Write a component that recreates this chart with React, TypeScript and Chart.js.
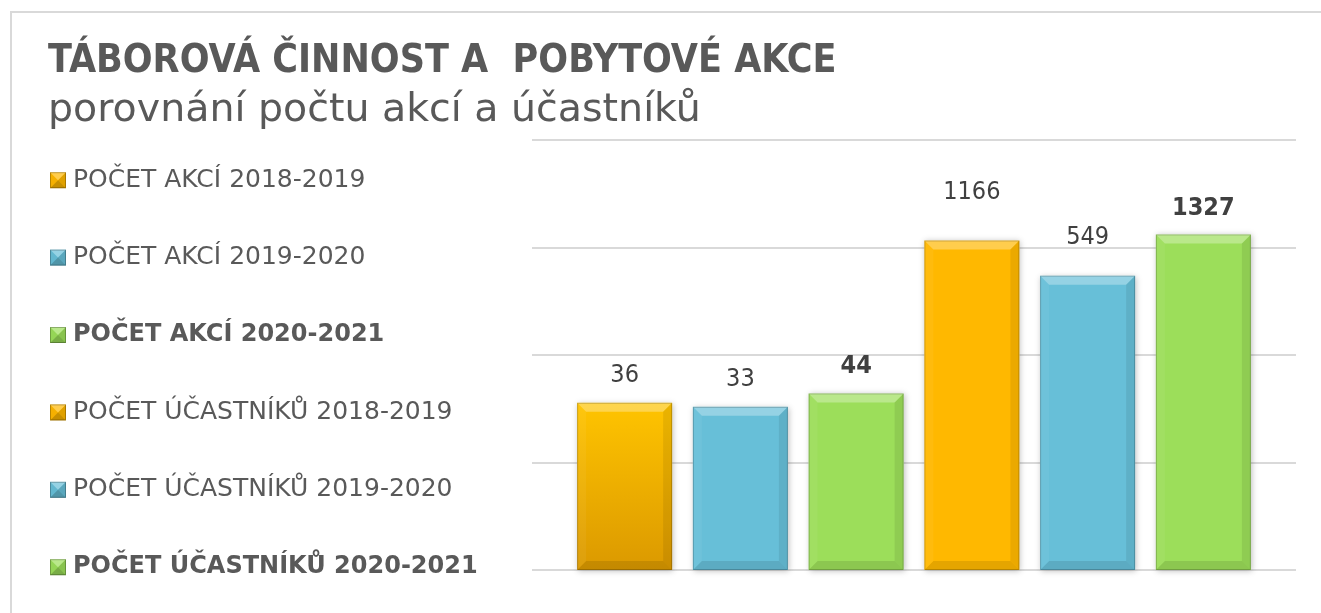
import React, { useEffect, useRef } from 'react';
import { Chart, registerables } from 'chart.js';

Chart.register(...registerables);

// ---- data ----
const categories = [''];
const seriesLabels = [
  'POČET AKCÍ 2018-2019',
  'POČET AKCÍ 2019-2020',
  'POČET AKCÍ 2020-2021',
  'POČET ÚČASTNÍKŮ 2018-2019',
  'POČET ÚČASTNÍKŮ 2019-2020',
  'POČET ÚČASTNÍKŮ 2020-2021',
];
const seriesValues = [36, 33, 44, 1166, 549, 1327];
const gridValues = [1, 10, 100, 1000, 10000];
const titleText = 'TÁBOROVÁ ČINNOST A  POBYTOVÉ AKCE';
const subtitleText = 'porovnání počtu akcí a účastníků';

// ---- styles ----
const FONT_C = '"DejaVu Sans Condensed", "DejaVu Sans", sans-serif';
const FONT = '"DejaVu Sans", sans-serif';
const seriesColors = ['#FFB800', '#67BFD8', '#9CDE5A', '#FFB800', '#67BFD8', '#9CDE5A'];
const boldSeries = [false, false, true, false, false, true];
const labelLift = [27, 27, 27, 48, 38, 26];
const TEXT = '#595959';
const LABEL = '#404040';

function bevelRect(ctx: CanvasRenderingContext2D, l: number, t: number, r: number, b: number, s: number) {
  const poly = (pts: number[][], fill: string) => {
    ctx.beginPath();
    ctx.moveTo(pts[0][0], pts[0][1]);
    for (let i = 1; i < pts.length; i++) ctx.lineTo(pts[i][0], pts[i][1]);
    ctx.closePath();
    ctx.fillStyle = fill;
    ctx.fill();
  };
  poly([[l, t], [r, t], [r - s, t + s], [l + s, t + s]], 'rgba(255,255,255,0.3)');
  poly([[l, b], [r, b], [r - s, b - s], [l + s, b - s]], 'rgba(0,0,0,0.1)');
  poly([[r, t], [r, b], [r - s, b - s], [r - s, t + s]], 'rgba(0,0,0,0.08)');
  poly([[l, t], [l, b], [l + s, b - s], [l + s, t + s]], 'rgba(255,255,255,0.05)');
}

const shadowPlugin = {
  id: 'barShadow',
  beforeDatasetsDraw(chart: any) {
    const ctx = chart.ctx as CanvasRenderingContext2D;
    chart.data.datasets.forEach((_d: any, i: number) => {
      const meta = chart.getDatasetMeta(i);
      meta.data.forEach((bar: any) => {
        const { x, y, base, width } = bar.getProps(['x', 'y', 'base', 'width'], true);
        ctx.save();
        ctx.shadowColor = 'rgba(0,0,0,0.25)';
        ctx.shadowBlur = 6;
        ctx.shadowOffsetX = 1;
        ctx.shadowOffsetY = 1;
        ctx.fillStyle = '#ffffff';
        ctx.fillRect(x - width / 2, y, width, base - y);
        ctx.restore();
      });
    });
  },
};

const bevelPlugin = {
  id: 'barBevel',
  afterDatasetsDraw(chart: any) {
    const ctx = chart.ctx as CanvasRenderingContext2D;
    chart.data.datasets.forEach((_d: any, i: number) => {
      const meta = chart.getDatasetMeta(i);
      meta.data.forEach((bar: any) => {
        const { x, y, base, width } = bar.getProps(['x', 'y', 'base', 'width'], true);
        const l = x - width / 2;
        const r = x + width / 2;
        ctx.save();
        bevelRect(ctx, l, y, r, base, 9);
        ctx.strokeStyle = 'rgba(0,0,0,0.2)';
        ctx.lineWidth = 1;
        ctx.strokeRect(l + 0.5, y + 0.5, width - 1, base - y - 1);
        ctx.restore();
        // value label
        ctx.save();
        ctx.font = `${boldSeries[i] ? 'bold ' : ''}25px ${FONT_C}`;
        ctx.fillStyle = LABEL;
        ctx.textAlign = 'center';
        ctx.textBaseline = 'middle';
        ctx.fillText(String(chart.data.datasets[i].data[0]), x, y - labelLift[i]);
        ctx.restore();
      });
    });
  },
};

const legendPlugin = {
  id: 'sideLegend',
  afterDraw(chart: any) {
    const ctx = chart.ctx as CanvasRenderingContext2D;
    const area = chart.chartArea;
    chart.data.datasets.forEach((ds: any, i: number) => {
      const cy = area.top + 40 + i * 77.4;
      const bx = 50;
      const s = 16;
      const by = cy - s / 2;
      const c = seriesColors[i];
      ctx.save();
      ctx.fillStyle = c;
      ctx.fillRect(bx, by, s, s);
      const tri = (pts: number[][], fill: string) => {
        ctx.beginPath();
        ctx.moveTo(pts[0][0], pts[0][1]);
        pts.slice(1).forEach((p) => ctx.lineTo(p[0], p[1]));
        ctx.closePath();
        ctx.fillStyle = fill;
        ctx.fill();
      };
      const mx = bx + s / 2;
      const my = by + s / 2;
      tri([[bx, by], [bx + s, by], [mx, my]], 'rgba(255,255,255,0.3)');
      tri([[bx + s, by], [bx + s, by + s], [mx, my]], 'rgba(0,0,0,0.12)');
      tri([[bx, by + s], [bx + s, by + s], [mx, my]], 'rgba(0,0,0,0.22)');
      tri([[bx, by], [bx, by + s], [mx, my]], 'rgba(0,0,0,0.04)');
      ctx.strokeStyle = 'rgba(0,0,0,0.25)';
      ctx.strokeRect(bx + 0.5, by + 0.5, s - 1, s - 1);
      ctx.font = boldSeries[i] ? `bold 24px ${FONT}` : `25px ${FONT}`;
      ctx.fillStyle = TEXT;
      ctx.textAlign = 'left';
      ctx.textBaseline = 'middle';
      ctx.fillText(ds.label, 73, cy);
      ctx.restore();
    });
  },
};

export default function App() {
  const ref = useRef<HTMLCanvasElement>(null);

  useEffect(() => {
    if (!ref.current) return;
    const datasets = seriesLabels.map((label, i) => ({
      label,
      data: [seriesValues[i]],
      backgroundColor:
        i === 0
          ? (c: any) => {
              const ch = c.chart;
              const ys = ch.scales && ch.scales.y;
              if (!ys || !ch.chartArea) return seriesColors[0];
              const top = ys.getPixelForValue(seriesValues[0]);
              const bot = ys.getPixelForValue(gridValues[0]);
              const g = ch.ctx.createLinearGradient(0, top, 0, bot);
              g.addColorStop(0, '#FFC400');
              g.addColorStop(1, '#DB9900');
              return g;
            }
          : seriesColors[i],
      borderWidth: 0,
      categoryPercentage: 0.909,
      barPercentage: 0.821,
    }));

    const chart = new Chart(ref.current, {
      type: 'bar',
      data: { labels: categories, datasets },
      options: {
        responsive: false,
        animation: false,
        layout: { padding: { top: 26, left: 48, right: 25, bottom: 43 } },
        plugins: {
          legend: { display: false },
          tooltip: { enabled: false },
          title: {
            display: true,
            text: titleText,
            align: 'start',
            color: TEXT,
            font: { family: FONT_C, size: 39, weight: 'bold' },
            padding: { top: 12, bottom: 0 },
          },
          subtitle: {
            display: true,
            text: subtitleText,
            align: 'start',
            color: TEXT,
            font: { family: FONT, size: 39.5, weight: 'normal' },
            padding: { top: 1.8, bottom: 6.2 },
          },
        },
        scales: {
          x: {
            type: 'category',
            display: false,
            offset: true,
          },
          y: {
            type: 'logarithmic',
            min: gridValues[0],
            max: gridValues[gridValues.length - 1],
            afterBuildTicks: (scale: any) => {
              scale.ticks = gridValues.map((v) => ({ value: v }));
            },
            afterFit: (scale: any) => {
              scale.width = 484;
            },
            ticks: { display: false },
            border: { display: false },
            grid: { color: '#d9d9d9', lineWidth: 2, drawTicks: false },
          },
        },
      },
      plugins: [shadowPlugin, bevelPlugin, legendPlugin],
    } as any);

    return () => chart.destroy();
  }, []);

  return (
    <div
      style={{
        position: 'fixed',
        left: 0,
        top: 0,
        width: 1321,
        height: 613,
        overflow: 'hidden',
        background: '#ffffff',
      }}
    >
      <div
        style={{
          position: 'absolute',
          left: 10,
          top: 11,
          width: 1400,
          height: 800,
          border: '2px solid #d9d9d9',
          boxSizing: 'border-box',
        }}
      />
      <canvas
        ref={ref}
        width={1321}
        height={613}
        style={{ position: 'absolute', left: 0, top: 0, width: 1321, height: 613 }}
      />
    </div>
  );
}
